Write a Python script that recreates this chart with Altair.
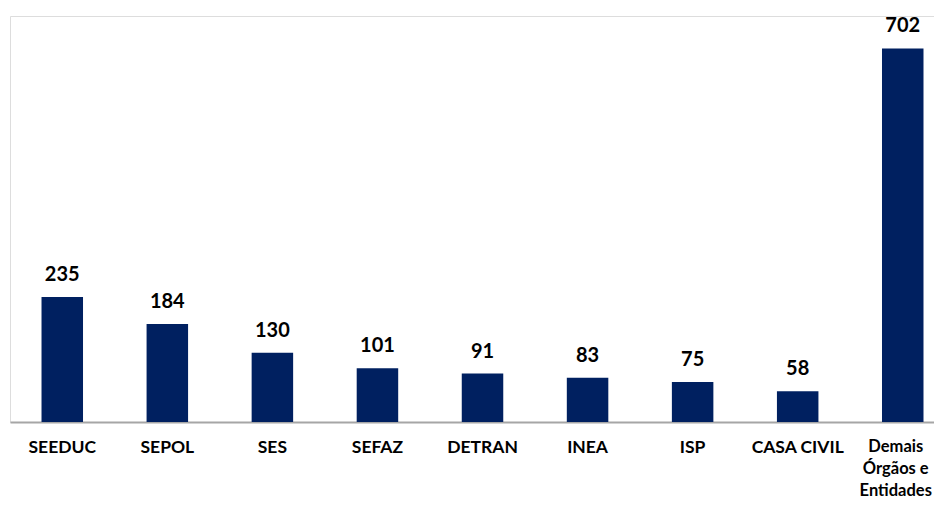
import altair as alt
import pandas as pd

categories = ["SEEDUC", "SEPOL", "SES", "SEFAZ", "DETRAN", "INEA", "ISP", "CASA CIVIL", "Demais Órgãos e Entidades"]
values = [235, 184, 130, 101, 91, 83, 75, 58, 702]

df = pd.DataFrame({"cat": categories, "val": values})

FONT = "Lato"
LAST = "Demais Órgãos e Entidades"
is_last = f"datum.value == '{LAST}'"

x = alt.X(
    "cat:N",
    sort=categories,
    title=None,
    scale=alt.Scale(paddingInner=0.605, paddingOuter=0.2, align=0.75),
    axis=alt.Axis(
        labelAngle=0,
        labelFont=FONT,
        labelFontWeight="bold",
        labelFontSize=alt.condition(is_last, alt.value(16.5), alt.value(17.5)),
        labelColor="#000000",
        labelPadding=16,
        labelLineHeight=22,
        labelOffset=alt.condition(is_last, alt.value(-7), alt.value(0)),
        labelExpr=f"datum.label == '{LAST}' ? ['Demais', 'Órgãos e', 'Entidades'] : datum.label",
        ticks=False,
        domainColor="#a6a6a6",
        domainWidth=2,
        labelLimit=200,
    ),
)
y = alt.Y("val:Q", scale=alt.Scale(domain=[0, 763]), axis=None)

bars = alt.Chart(df).mark_bar(color="#002060").encode(x=x, y=y)
labels = alt.Chart(df).mark_text(
    baseline="bottom", dy=-12, font=FONT, fontWeight="bold", fontSize=20, color="#000000"
).encode(x=x, y=y, text="val:Q")

chart = (
    (bars + labels)
    .properties(
        width=924,
        height=406,
        autosize=alt.AutoSizeParams(type="none"),
        padding={"left": 2, "top": 8, "right": 0, "bottom": 80},
    )
    .configure_view(stroke=None, strokeWidth=0)
    .configure(background="#ffffff")
)

chart.save("out.html", embed_options={"renderer": "svg", "actions": False})
